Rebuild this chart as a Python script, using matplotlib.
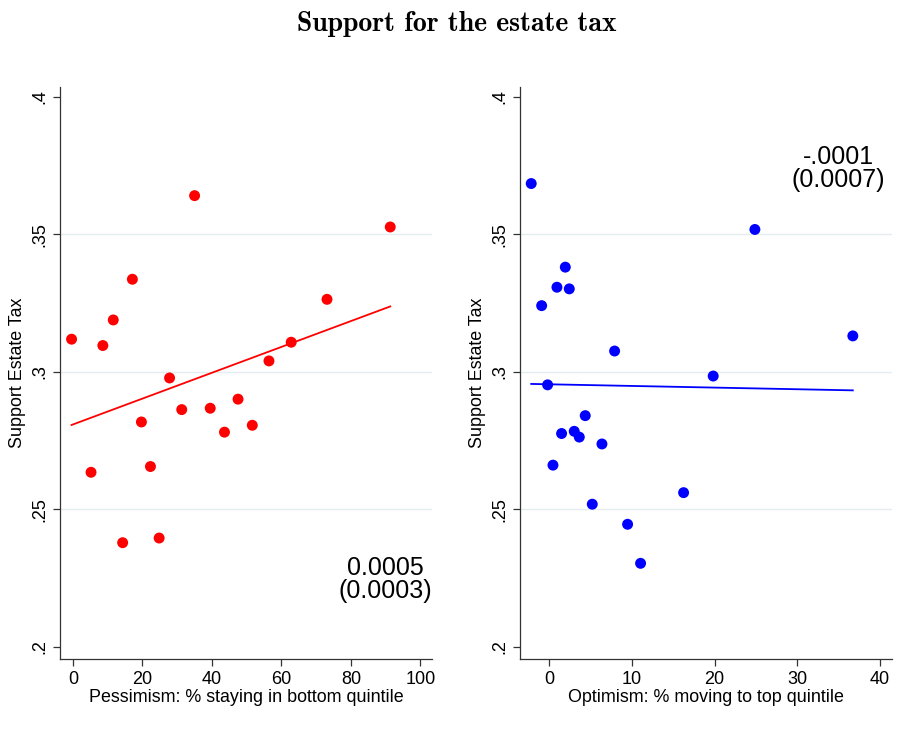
import numpy as np
import matplotlib.pyplot as plt

plt.rcParams['font.family'] = ['Liberation Sans', 'DejaVu Sans']

# pessimism panel: % staying in bottom quintile vs support for estate tax
pess_x = [-0.4, 8.6, 11.6, 17.1, 35.0, 91.3, 73.1, 62.8, 56.4, 27.8,
          31.3, 39.5, 47.5, 19.7, 43.6, 51.6, 5.2, 22.3, 14.3, 24.8]
pess_y = [0.3119, 0.3096, 0.3189, 0.3337, 0.3641, 0.3527, 0.3264, 0.3108, 0.3040, 0.2978,
          0.2863, 0.2868, 0.2901, 0.2818, 0.2781, 0.2806, 0.2635, 0.2656, 0.2379, 0.2396]
pess_fit = [0.2809, 0.00047]   # intercept, slope
pess_coef = "0.0005\n(0.0003)"

# optimism panel: % moving to top quintile vs support for estate tax
opt_x = [-2.18, -0.92, 0.93, 1.94, 2.42, 7.90, 24.86, 36.70, 19.82, -0.2,
         4.35, 1.49, 3.02, 3.63, 6.37, 0.45, 16.24, 5.20, 9.47, 11.04]
opt_y = [0.3685, 0.3241, 0.3308, 0.3381, 0.3302, 0.3076, 0.3518, 0.3131, 0.2985, 0.2953,
         0.2841, 0.2776, 0.2784, 0.2763, 0.2738, 0.2661, 0.2561, 0.2519, 0.2446, 0.2304]
opt_fit = [0.2955, -0.00006]
opt_coef = "-.0001\n(0.0007)"

yticks = [0.2, 0.25, 0.3, 0.35, 0.4]
yticklabels = ['.2', '.25', '.3', '.35', '.4']

fig = plt.figure(figsize=(9.14, 7.45), dpi=100)
fig.text(0.5, 0.968, 'Support for the estate tax', ha='center', va='center',
         fontsize=20, fontfamily='cmb10')


def panel(rect, x, y, fit, coef, color, xlim, xticks, xlabel, txt_xy):
    ax = fig.add_axes(rect)
    for g in [0.25, 0.3, 0.35]:
        ax.axhline(g, color='#e3edf0', lw=1, zorder=0)
    ax.scatter(x, y, s=62, color=color, edgecolors='none', zorder=3)
    xs = np.array([min(x), max(x)])
    ax.plot(xs, fit[0] + fit[1] * xs, color=color, lw=1.3, zorder=2)
    ax.text(txt_xy[0], txt_xy[1], coef, ha='center', va='center',
            multialignment='center', fontsize=18, linespacing=0.95)
    ax.set_xlim(*xlim)
    ax.set_ylim(0.1956, 0.4036)
    ax.set_xticks(xticks)
    ax.set_yticks(yticks)
    ax.set_yticklabels(yticklabels, rotation=90, va='center')
    ax.tick_params(labelsize=13, length=5, width=0.9, color='#333333')
    for s in ['top', 'right']:
        ax.spines[s].set_visible(False)
    for s in ['left', 'bottom']:
        ax.spines[s].set_color('#333333')
        ax.spines[s].set_linewidth(0.9)
    ax.set_xlabel(xlabel, fontsize=12.9, labelpad=1)
    ax.set_ylabel('Support Estate Tax', fontsize=12.9, labelpad=4)
    return ax


panel([0.0656, 0.1154, 0.407, 0.7678], pess_x, pess_y, pess_fit, pess_coef, '#ff0000',
      (-3.74, 103.3), [0, 20, 40, 60, 80, 100],
      'Pessimism: % staying in bottom quintile', (89.8, 0.2244))
panel([0.5689, 0.1154, 0.4067, 0.7678], opt_x, opt_y, opt_fit, opt_coef, '#0000ff',
      (-3.54, 41.4), [0, 10, 20, 30, 40],
      'Optimism: % moving to top quintile', (34.95, 0.3738))

fig.savefig('out.png', dpi=100)
